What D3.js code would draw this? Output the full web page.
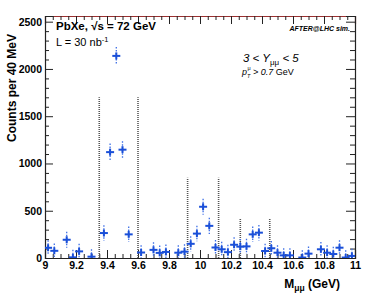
<!DOCTYPE html>
<html>
<head>
<meta charset="utf-8">
<script src="https://cdn.jsdelivr.net/npm/d3@7"></script>
<style>
  body { margin: 0; background: #fff; }
  svg { font-family: "Liberation Sans", Arial, sans-serif; }
  .axis path, .axis line { stroke: #222; }
  .axis text { font-size: 10.5px; font-weight: bold; fill: #000; }
</style>
</head>
<body>
<svg width="374" height="304"></svg>
<script>
// dimuon mass bins (GeV), counts per 40 MeV and their errors
const mass   = [9.02, 9.06, 9.14, 9.18, 9.22, 9.30, 9.38, 9.42, 9.46, 9.50, 9.54, 9.62, 9.70, 9.74, 9.78, 9.86, 9.90, 9.94, 9.98, 10.02, 10.06, 10.10, 10.14, 10.18, 10.22, 10.26, 10.30, 10.34, 10.38, 10.42, 10.46, 10.50, 10.54, 10.58, 10.66, 10.70, 10.78, 10.82, 10.86, 10.90, 10.94, 10.98];
const counts = [108, 76, 193, 7, 70, 14, 264, 1120, 2138, 1146, 250, 58, 86, 54, 64, 56, 67, 150, 258, 542, 340, 111, 92, 62, 140, 120, 123, 250, 268, 74, 103, 56, 28, 28, 5, 46, 92, 56, 42, 109, 5, 22];
const errs   = [80, 78, 85, 80, 80, 78, 82, 90, 95, 90, 82, 78, 80, 78, 78, 78, 78, 80, 82, 85, 85, 80, 80, 78, 80, 80, 80, 82, 82, 78, 78, 78, 76, 76, 76, 76, 78, 78, 76, 78, 76, 76];

// signal windows: dotted vertical lines (position, height)
const windowX = [9.35, 9.60, 9.92, 10.12, 10.26, 10.45];
const windowH = [1700, 1700, 850, 850, 420, 420];

const xMajor = [9, 9.2, 9.4, 9.6, 9.8, 10, 10.2, 10.4, 10.6, 10.8, 11];
const yMajor = [0, 500, 1000, 1500, 2000, 2500];

const svg = d3.select("svg");
const margin = {top: 16, right: 19, bottom: 46, left: 45},
  width  = 374 - margin.left - margin.right,
  height = 304 - margin.top - margin.bottom;

const x = d3.scaleLinear().domain([9, 11]).range([0, width]);
const y = d3.scaleLinear().domain([0, 2560]).range([height, 0]);

const g = svg.append("g")
  .attr("transform", `translate(${margin.left},${margin.top})`);

g.append("clipPath").attr("id", "clip")
  .append("rect").attr("width", width).attr("height", height);

// minor ticks
const xMinor = d3.range(9, 11.001, 0.05).filter(v => Math.abs(v * 5 - Math.round(v * 5)) > 1e-6);
const yMinor = d3.range(0, 2560, 100).filter(v => v % 500 != 0);

// bottom axis
g.append("g")
  .attr("class", "axis")
  .attr("transform", `translate(0,${height})`)
  .call(d3.axisBottom(x).tickValues(xMajor).tickSize(-8).tickPadding(3.5)
    .tickFormat(d => d3.format("")(+d.toFixed(1))));
g.append("g")
  .attr("class", "axis")
  .attr("transform", `translate(0,${height})`)
  .call(d3.axisBottom(x).tickValues(xMinor).tickSize(-4).tickFormat(""))
  .select(".domain").remove();

// top axis
const top1 = g.append("g")
  .attr("class", "axis")
  .call(d3.axisTop(x).tickValues(xMajor).tickSize(-8).tickFormat(""));
const top2 = g.append("g")
  .attr("class", "axis")
  .call(d3.axisTop(x).tickValues(xMinor).tickSize(-4).tickFormat(""));
top2.select(".domain").remove();
top1.select(".domain").style("stroke", "#9a3030");

// left axis
g.append("g")
  .attr("class", "axis")
  .call(d3.axisLeft(y).tickValues(yMajor).tickSize(-8).tickPadding(3)
    .tickFormat(d3.format("d")));
g.append("g")
  .attr("class", "axis")
  .call(d3.axisLeft(y).tickValues(yMinor).tickSize(-4).tickFormat(""))
  .select(".domain").remove();

// right axis
g.append("g")
  .attr("class", "axis")
  .attr("transform", `translate(${width},0)`)
  .call(d3.axisRight(y).tickValues(yMajor).tickSize(-9).tickFormat(""));
g.append("g")
  .attr("class", "axis")
  .attr("transform", `translate(${width},0)`)
  .call(d3.axisRight(y).tickValues(yMinor).tickSize(-5).tickFormat(""))
  .select(".domain").remove();

g.selectAll(".axis .domain").attr("stroke-width", 1.2);

// signal window lines
g.selectAll(".win")
  .data(windowX)
  .enter().append("line")
  .attr("class", "win")
  .attr("x1", d => x(d)).attr("x2", d => x(d))
  .attr("y1", y(0))
  .attr("y2", (d, i) => y(windowH[i]))
  .attr("stroke", "#555")
  .attr("stroke-width", 1.6)
  .attr("stroke-dasharray", "1,1");

// data points
const pts = g.append("g").attr("clip-path", "url(#clip)")
  .selectAll(".pt")
  .data(mass)
  .enter().append("g")
  .attr("class", "pt")
  .attr("transform", (d, i) => `translate(${x(d)},${y(counts[i])})`);

pts.append("line")
  .attr("y1", (d, i) => y(counts[i] + errs[i]) - y(counts[i]))
  .attr("y2", (d, i) => y(counts[i] - errs[i]) - y(counts[i]))
  .attr("stroke", "#3d6fe6")
  .attr("stroke-width", 1.3)
  .attr("stroke-dasharray", "1.5,1.5");

pts.append("line")
  .attr("x1", -4).attr("x2", 4)
  .attr("stroke", "#1a4fd8").attr("stroke-width", 2);
pts.append("line")
  .attr("y1", -3.5).attr("y2", 3.5)
  .attr("stroke", "#1a4fd8").attr("stroke-width", 2);

// labels
svg.append("text")
  .attr("x", 56).attr("y", 30)
  .attr("font-size", "11.5px").attr("font-weight", "bold")
  .text("PbXe, √s = 72 GeV");

const lum = svg.append("text")
  .attr("x", 56).attr("y", 46)
  .attr("font-size", "11px");
lum.append("tspan").text("L = 30 nb");
lum.append("tspan").attr("dy", -4).attr("font-size", "7.5px").text("-1");

svg.append("text")
  .attr("x", 350).attr("y", 31)
  .attr("text-anchor", "end")
  .attr("font-size", "7px").attr("font-weight", "bold").attr("font-style", "italic")
  .text("AFTER@LHC sim.");

const rap = svg.append("text")
  .attr("x", 243).attr("y", 62)
  .attr("font-size", "11.5px").attr("font-style", "italic");
rap.append("tspan").text("3 < Y");
rap.append("tspan").attr("dy", 2.5).attr("font-size", "8px").attr("font-style", "normal").text("μμ");
rap.append("tspan").attr("dy", -2.5).text(" < 5");

// p_T^mu > 0.7 GeV, pieces placed side by side
svg.append("text")
  .attr("x", 242).attr("y", 75)
  .attr("font-size", "9px").attr("font-style", "italic")
  .text("p");
svg.append("text")
  .attr("x", 247.5).attr("y", 70)
  .attr("font-size", "5.5px")
  .text("μ");
svg.append("text")
  .attr("x", 247).attr("y", 78)
  .attr("font-size", "5.5px").attr("font-style", "italic")
  .text("T");
const ptc = svg.append("text")
  .attr("x", 253).attr("y", 75)
  .attr("font-size", "9px");
ptc.append("tspan").attr("font-style", "italic").text("> 0.7 ");
ptc.append("tspan").text("GeV");

svg.append("text")
  .attr("transform", "translate(16,88) rotate(-90)")
  .attr("text-anchor", "middle")
  .attr("font-size", "12px").attr("font-weight", "bold")
  .text("Counts per 40 MeV");

const xl = svg.append("text")
  .attr("x", 340).attr("y", 288)
  .attr("text-anchor", "end")
  .attr("font-size", "12px").attr("font-weight", "bold");
xl.append("tspan").text("M");
xl.append("tspan").attr("dy", 3).attr("font-size", "8.5px").text("μμ");
xl.append("tspan").attr("dy", -3).text(" (GeV)");
</script>
</body>
</html>
